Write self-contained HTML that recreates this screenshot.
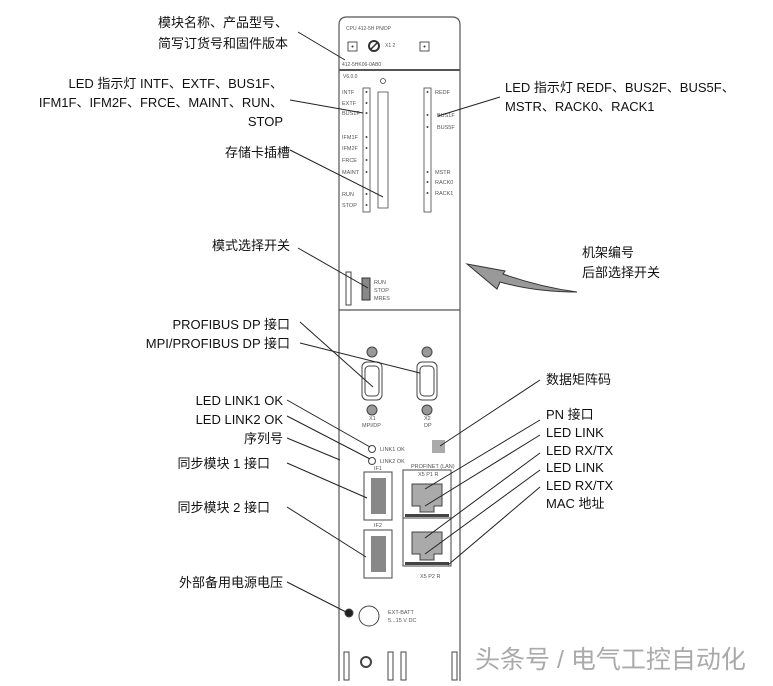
<!DOCTYPE html>
<html><head><meta charset="utf-8"><style>
body{margin:0;background:#fff;width:773px;height:681px;overflow:hidden}
svg text{font-family:"Liberation Sans","Noto Sans CJK SC",sans-serif}
</style></head><body>
<svg width="773" height="681" viewBox="0 0 773 681" xmlns="http://www.w3.org/2000/svg">
<g fill="none" stroke="#555" stroke-width="1.2">
<path d="M339,681 V25 Q339,17 347,17 H452 Q460,17 460,25 V681"/>
<line x1="339" y1="70" x2="460" y2="70" stroke-width="2"/>
<line x1="339" y1="310" x2="460" y2="310"/>
</g>
<g font-size="5" fill="#555">
<text x="346" y="30">CPU 412-5H PN/DP</text>
<text x="342" y="66">412-5HK06-0AB0</text>
<text x="343" y="78">V6.0.0</text>
</g>
<rect x="348" y="42" width="9" height="9" fill="none" stroke="#555"/><circle cx="352.5" cy="46.5" r="1" fill="#333"/>
<circle cx="374" cy="46" r="5" fill="none" stroke="#333" stroke-width="2"/><line x1="370" y1="50" x2="378" y2="42" stroke="#333" stroke-width="1.5"/>
<text x="385" y="47" font-size="5" fill="#555">X1 2</text>
<rect x="420" y="42" width="9" height="9" fill="none" stroke="#555"/><circle cx="424.5" cy="46.5" r="1" fill="#333"/>
<g fill="none" stroke="#444" stroke-width="0.8">
<rect x="363" y="88" width="7" height="124"/>
<rect x="424" y="88" width="7" height="124"/>
<path d="M378,92 h10 v116 h-10 z"/>
<circle cx="383" cy="81" r="2.5"/>
</g>
<g fill="#444">
<circle cx="366.5" cy="92" r="1"/><circle cx="366.5" cy="103" r="1"/><circle cx="366.5" cy="113" r="1"/>
<circle cx="366.5" cy="137" r="1"/><circle cx="366.5" cy="148" r="1"/><circle cx="366.5" cy="160" r="1"/><circle cx="366.5" cy="172" r="1"/>
<circle cx="366.5" cy="194" r="1"/><circle cx="366.5" cy="205" r="1"/>
<circle cx="427.5" cy="92" r="1"/><circle cx="427.5" cy="115" r="1"/><circle cx="427.5" cy="127" r="1"/>
<circle cx="427.5" cy="172" r="1"/><circle cx="427.5" cy="182" r="1"/><circle cx="427.5" cy="193" r="1"/>
</g>
<g font-size="5.5" fill="#555">
<text x="342" y="94">INTF</text><text x="342" y="105">EXTF</text><text x="342" y="115">BUS1F</text>
<text x="342" y="139">IFM1F</text><text x="342" y="150">IFM2F</text><text x="342" y="162">FRCE</text><text x="342" y="174">MAINT</text>
<text x="342" y="196">RUN</text><text x="342" y="207">STOP</text>
<text x="435" y="94">REDF</text><text x="437" y="117">BUS1F</text><text x="437" y="129">BUS5F</text>
<text x="435" y="174">MSTR</text><text x="435" y="184">RACK0</text><text x="435" y="195">RACK1</text>
<text x="374" y="284">RUN</text><text x="374" y="292">STOP</text><text x="374" y="300">MRES</text>
</g>
<rect x="346" y="272" width="5" height="33" fill="none" stroke="#444"/>
<rect x="362" y="278" width="8" height="22" fill="#888" stroke="#333"/>
<g stroke="#444" fill="none">
<circle cx="372" cy="352" r="5" fill="#999"/><circle cx="372" cy="410" r="5" fill="#999"/>
<circle cx="427" cy="352" r="5" fill="#999"/><circle cx="427" cy="410" r="5" fill="#999"/>
<rect x="362" y="362" width="20" height="38" rx="5"/><rect x="365" y="366" width="14" height="30" rx="4"/>
<rect x="417" y="362" width="20" height="38" rx="5"/><rect x="420" y="366" width="14" height="30" rx="4"/>
<circle cx="372" cy="449" r="3.5"/><circle cx="372" cy="461" r="3.5"/>
<rect x="364" y="472" width="28" height="48"/><rect x="364" y="530" width="28" height="48"/>
<rect x="403" y="470" width="48" height="96"/>
<line x1="403" y1="518" x2="451" y2="518"/>
<circle cx="349" cy="613" r="4" fill="#222"/>
<circle cx="369" cy="616" r="10"/>
<rect x="344" y="652" width="5" height="28"/><rect x="388" y="652" width="5" height="28"/><rect x="401" y="652" width="5" height="28"/><rect x="452" y="652" width="5" height="28"/>
<circle cx="366" cy="662" r="5" stroke-width="2"/>
</g>
<rect x="371" y="478" width="15" height="36" fill="#888"/>
<rect x="371" y="536" width="15" height="36" fill="#888"/>
<path d="M412,484 h30 v22 h-8 v6 h-14 v-6 h-8z" fill="#aaa" stroke="#444"/>
<path d="M412,532 h30 v22 h-8 v6 h-14 v-6 h-8z" fill="#aaa" stroke="#444"/>
<rect x="405" y="514" width="44" height="3" fill="#444"/><rect x="405" y="562" width="44" height="3" fill="#444"/>
<rect x="432" y="440" width="13" height="13" fill="#aaa"/>
<g font-size="5.5" fill="#555">
<text x="369" y="420">X1</text><text x="362" y="427">MPI/DP</text>
<text x="424" y="420">X2</text><text x="424" y="427">DP</text>
<text x="380" y="451">LINK1 OK</text><text x="380" y="463">LINK2 OK</text>
<text x="374" y="470">IF1</text><text x="374" y="527">IF2</text>
<text x="411" y="468">PROFINET (LAN)</text><text x="418" y="476">X5 P1 R</text>
<text x="420" y="578">X5 P2 R</text>
<text x="388" y="614">EXT-BATT</text><text x="388" y="622">5...15 V DC</text>
</g>
<path d="M467,264 L505,271 L503,274 Q540,287 577,292 Q535,292 500,282 L497,289 Z" fill="#999" stroke="#333" stroke-width="1"/>
<g stroke="#222" stroke-width="1">
<line x1="298" y1="32" x2="345" y2="60"/>
<line x1="290" y1="100" x2="363" y2="113"/>
<line x1="290" y1="150" x2="383" y2="197"/>
<line x1="298" y1="248" x2="368" y2="288"/>
<line x1="300" y1="322" x2="373" y2="387"/>
<line x1="300" y1="343" x2="420" y2="373"/>
<line x1="500" y1="97" x2="438" y2="116"/>
<line x1="287" y1="400" x2="370" y2="447"/>
<line x1="287" y1="416" x2="370" y2="459"/>
<line x1="287" y1="438" x2="340" y2="460"/>
<line x1="287" y1="463" x2="367" y2="498"/>
<line x1="287" y1="507" x2="366" y2="557"/>
<line x1="287" y1="582" x2="346" y2="612"/>
<line x1="540" y1="380" x2="440" y2="446"/>
<line x1="540" y1="420" x2="425" y2="489"/>
<line x1="540" y1="435" x2="425" y2="506"/>
<line x1="540" y1="453" x2="425" y2="538"/>
<line x1="540" y1="470" x2="425" y2="554"/>
<line x1="540" y1="487" x2="448" y2="565"/>
</g>
<g font-size="13" fill="#111">
<text x="288" y="27" text-anchor="end">模块名称、产品型号、</text>
<text x="288" y="48" text-anchor="end">简写订货号和固件版本</text>
<text x="283" y="88" text-anchor="end">LED 指示灯 INTF、EXTF、BUS1F、</text>
<text x="283" y="107" text-anchor="end">IFM1F、IFM2F、FRCE、MAINT、RUN、</text>
<text x="283" y="126" text-anchor="end">STOP</text>
<text x="290" y="157" text-anchor="end">存储卡插槽</text>
<text x="290" y="250" text-anchor="end">模式选择开关</text>
<text x="290" y="329" text-anchor="end">PROFIBUS DP 接口</text>
<text x="290" y="348" text-anchor="end">MPI/PROFIBUS DP 接口</text>
<text x="283" y="405" text-anchor="end">LED LINK1 OK</text>
<text x="283" y="424" text-anchor="end">LED LINK2 OK</text>
<text x="283" y="443" text-anchor="end">序列号</text>
<text x="270" y="468" text-anchor="end">同步模块 1 接口</text>
<text x="270" y="512" text-anchor="end">同步模块 2 接口</text>
<text x="283" y="587" text-anchor="end">外部备用电源电压</text>
<text x="505" y="92">LED 指示灯 REDF、BUS2F、BUS5F、</text>
<text x="505" y="111">MSTR、RACK0、RACK1</text>
<text x="582" y="257">机架编号</text>
<text x="582" y="277">后部选择开关</text>
<text x="546" y="384">数据矩阵码</text>
<text x="546" y="419">PN 接口</text>
<text x="546" y="437">LED LINK</text>
<text x="546" y="455">LED RX/TX</text>
<text x="546" y="472">LED LINK</text>
<text x="546" y="490">LED RX/TX</text>
<text x="546" y="508">MAC 地址</text>
</g>
<text x="475" y="668" font-size="25" fill="#aaa">头条号 / 电气工控自动化</text>
</svg>
</body></html>
